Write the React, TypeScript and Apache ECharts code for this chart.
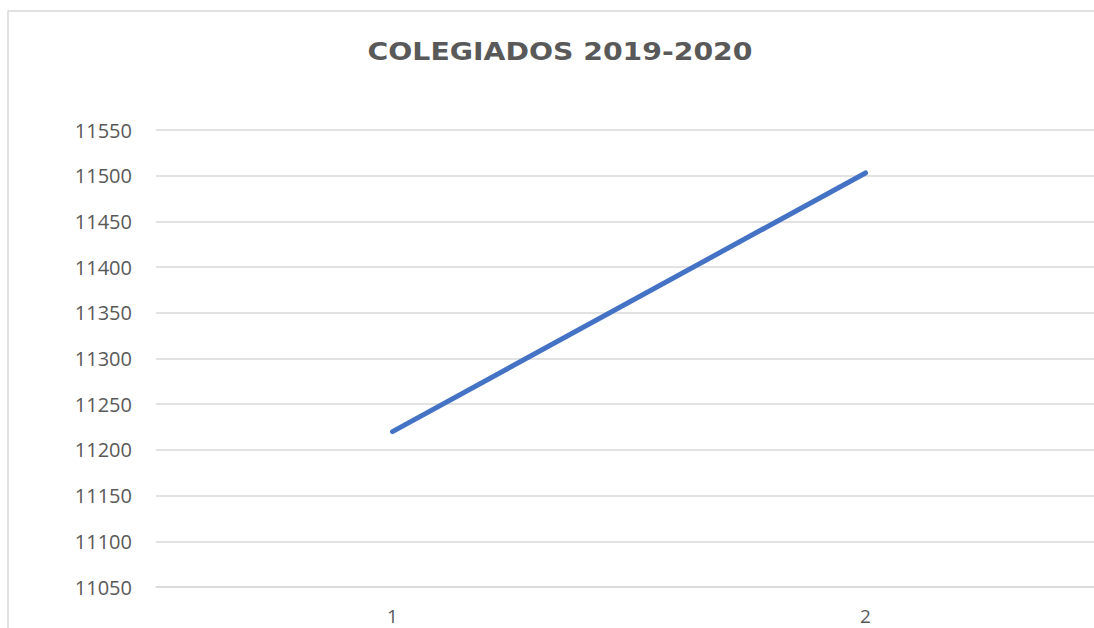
import React, { useEffect, useRef } from "react";
import * as echarts from "echarts";

const titleText = "COLEGIADOS 2019-2020";
const categories = ["1", "2"];
const colegiados = [11220, 11503];
const yMin = 11050;
const yMax = 11550;
const yInterval = 50;

export default function App() {
  const ref = useRef<HTMLDivElement>(null);
  useEffect(() => {
    if (!ref.current) return;
    const chart = echarts.init(ref.current, undefined, { renderer: "svg" });
    chart.setOption({
      animation: false,
      backgroundColor: "#ffffff",
      graphic: [
        {
          type: "rect",
          shape: { x: 8, y: 11, width: 1200, height: 700 },
          style: { fill: "none", stroke: "#d9d9d9", lineWidth: 1.5 },
          silent: true,
          z: -1,
        },
        {
          type: "text",
          x: 560,
          y: 52,
          scaleX: 1.18,
          style: {
            text: titleText,
            fontFamily: "DejaVu Sans",
            fontWeight: "bold",
            fontSize: 24,
            fill: "#595959",
            textAlign: "center",
            textVerticalAlign: "middle",
          },
        },
      ],
      grid: { left: 156, right: 8, top: 130, bottom: 41, containLabel: false },
      xAxis: {
        type: "category",
        data: categories,
        boundaryGap: true,
        axisLine: { show: true, lineStyle: { color: "#d9d9d9", width: 1.5 } },
        axisTick: { show: false },
        axisLabel: {
          margin: 20,
          fontFamily: "Open Sans",
          fontSize: 19,
          lineHeight: 17,
          color: "#595959",
        },
      },
      yAxis: {
        type: "value",
        min: yMin,
        max: yMax,
        interval: yInterval,
        axisLine: { show: false },
        axisTick: { show: false },
        splitLine: { lineStyle: { color: "#d9d9d9", width: 1.5 } },
        axisLabel: {
          margin: 24,
          fontFamily: "Open Sans",
          fontSize: 20,
          color: "#595959",
          formatter: (v: number) => String(v),
        },
      },
      series: [
        {
          type: "line",
          data: colegiados,
          showSymbol: false,
          symbol: "none",
          lineStyle: { color: "#4472c4", width: 5, cap: "round" },
        },
      ],
    });
    return () => chart.dispose();
  }, []);
  return (
    <div style={{ position: "fixed", left: 0, top: 0, width: 1094, height: 628, overflow: "hidden" }}>
      <div ref={ref} style={{ width: 1110, height: 628 }} />
    </div>
  );
}
